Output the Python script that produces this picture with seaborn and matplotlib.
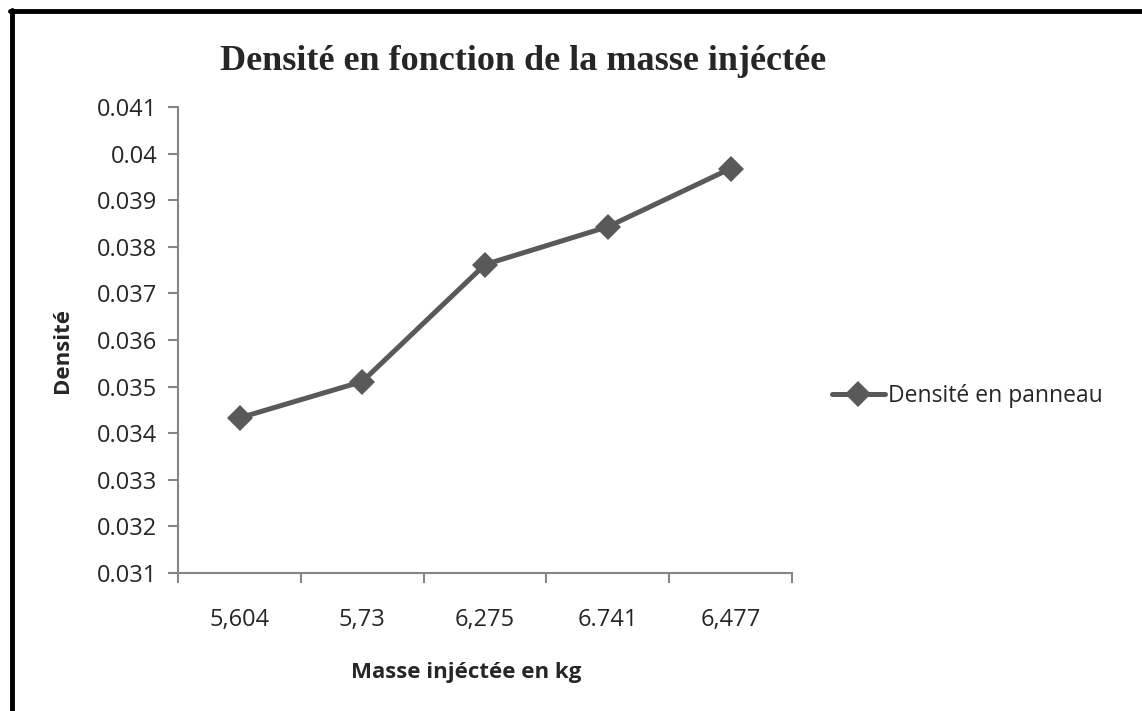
import numpy as np
import pandas as pd
import matplotlib
matplotlib.use("Agg")
import matplotlib.pyplot as plt
import seaborn as sns
from matplotlib.lines import Line2D
from matplotlib.ticker import FixedLocator

# data
masses = ["5,604", "5,73", "6,275", "6.741", "6,477"]
densites = [0.03433, 0.03511, 0.03762, 0.03843, 0.03968]
y_ticks = [0.031, 0.032, 0.033, 0.034, 0.035, 0.036, 0.037, 0.038, 0.039, 0.04, 0.041]
y_tick_labels = ["0.031", "0.032", "0.033", "0.034", "0.035", "0.036",
                 "0.037", "0.038", "0.039", "0.04", "0.041"]

sns.set_style("white")
plt.rcParams["font.family"] = ["Open Sans", "DejaVu Sans"]

df = pd.DataFrame({"masse": masses, "densite": densites})
line_color = "#595959"
axis_color = "#868686"

fig = plt.figure(figsize=(11.42, 7.11), dpi=100)
ax = fig.add_axes([0.156, 0.194, 0.5375, 0.6555])

sns.lineplot(data=df, x="masse", y="densite", ax=ax, color=line_color,
             linewidth=3.6, marker="D", markersize=13, markeredgewidth=0,
             sort=False, label="Densité en panneau")

ax.set_xlim(-0.5, len(masses) - 0.5)
ax.set_ylim(0.031, 0.041)
ax.set_yticks(y_ticks)
ax.set_yticklabels(y_tick_labels)
ax.set_xticks(range(len(masses)))
ax.set_xticklabels(masses)
ax.xaxis.set_minor_locator(FixedLocator(np.arange(-0.5, len(masses), 1.0)))

ax.tick_params(axis="x", which="major", length=0, pad=25, labelsize=17)
ax.tick_params(axis="x", which="minor", length=7, width=1.5, color=axis_color, direction="out")
ax.tick_params(axis="y", length=7, width=1.5, color=axis_color, direction="out", labelsize=17, pad=8)
ax.xaxis.set_ticks_position("bottom")
ax.yaxis.set_ticks_position("left")

for side in ["top", "right"]:
    ax.spines[side].set_visible(False)
for side in ["left", "bottom"]:
    ax.spines[side].set_color(axis_color)
    ax.spines[side].set_linewidth(1.5)

ax.set_xlabel("Masse injéctée en kg", fontsize=16, fontweight="bold")
ax.set_ylabel("Densité", fontsize=16, fontweight="bold")
ax.xaxis.set_label_coords(0.469, -0.19)
ax.yaxis.set_label_coords(-0.172, 0.478)

fig.text(0.458, 0.9015, "Densité en fonction de la masse injéctée",
         ha="center", va="baseline", fontsize=26, fontweight="bold",
         family=["Liberation Serif", "DejaVu Serif"])

ax.legend(loc="center left", bbox_to_anchor=(1.05, 0.38), frameon=False,
          fontsize=16.5, handlelength=2.3, handletextpad=0.15, borderaxespad=0)

# outer frame of the chart (only top and left edges are visible in the crop)
fig.add_artist(Line2D([0.0102, 0.0102], [0.0, 0.986], transform=fig.transFigure,
                      color="black", linewidth=3.5))
fig.add_artist(Line2D([0.0087, 1.0], [0.984, 0.984], transform=fig.transFigure,
                      color="black", linewidth=3.5))

fig.savefig("out.png", dpi=100)
